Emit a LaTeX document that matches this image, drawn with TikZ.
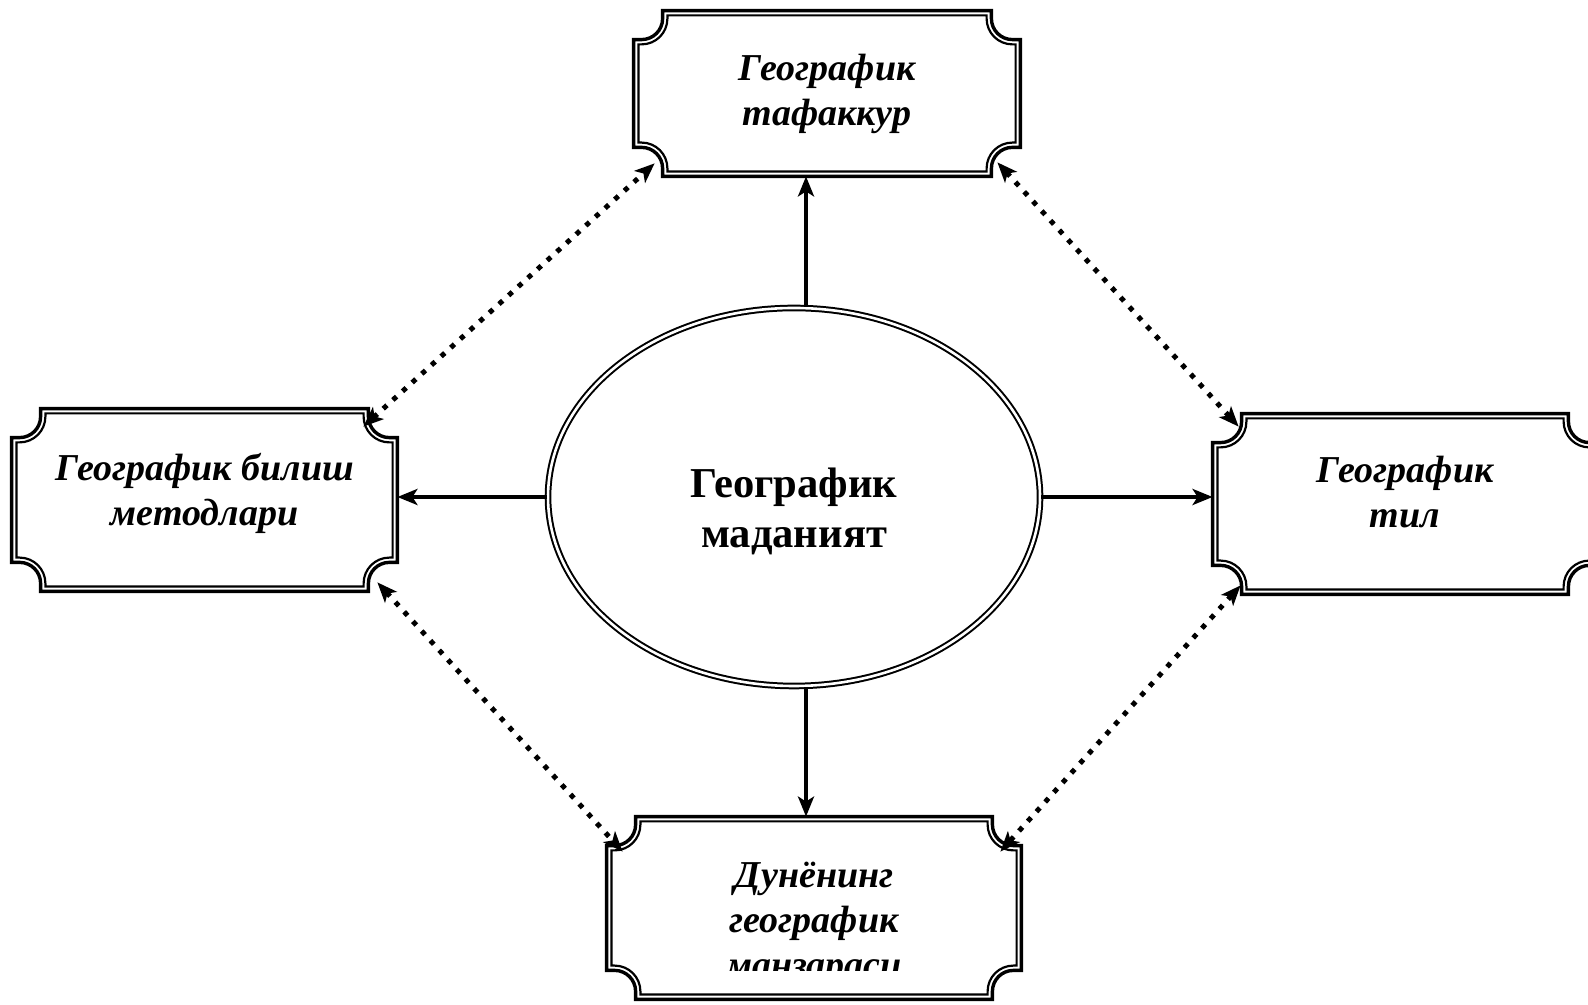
\documentclass[tikz,border=0pt]{standalone}
\usepackage{fontspec}
\setmainfont{Liberation Serif}
\usetikzlibrary{arrows.meta,calc,shapes.geometric}

\newcommand{\plqstep}{4pt}
\newcommand{\plqrad}{10.5pt}
% one outline of a box with notched corners: node, inset, line width
\newcommand{\plaqueline}[3]{%
  \draw[line width=#3] let \p1=(#1.south west), \p2=(#1.north east) in
    ({\x1+\plqstep+\plqrad+#2},{\y2-#2}) -- ({\x2-\plqstep-\plqrad-#2},{\y2-#2})
    -- ({\x2-\plqstep-\plqrad-#2},{\y2-\plqstep}) arc[start angle=180,end angle=270,radius=\plqrad+#2]
    -- ({\x2-#2},{\y2-\plqstep-\plqrad-#2}) -- ({\x2-#2},{\y1+\plqstep+\plqrad+#2})
    -- ({\x2-\plqstep},{\y1+\plqstep+\plqrad+#2}) arc[start angle=90,end angle=180,radius=\plqrad+#2]
    -- ({\x2-\plqstep-\plqrad-#2},{\y1+#2}) -- ({\x1+\plqstep+\plqrad+#2},{\y1+#2})
    -- ({\x1+\plqstep+\plqrad+#2},{\y1+\plqstep}) arc[start angle=0,end angle=90,radius=\plqrad+#2]
    -- ({\x1+#2},{\y1+\plqstep+\plqrad+#2}) -- ({\x1+#2},{\y2-\plqstep-\plqrad-#2})
    -- ({\x1+\plqstep},{\y2-\plqstep-\plqrad-#2}) arc[start angle=270,end angle=360,radius=\plqrad+#2]
    -- cycle;}
\newcommand{\plaque}[1]{\plaqueline{#1}{0pt}{1.7pt}\plaqueline{#1}{2.4pt}{1.1pt}}

\begin{document}
\begin{tikzpicture}[
  x=.5pt,y=.5pt,
  >={Stealth[length=10pt,width=8pt,inset=2.5pt]},
  plaque/.style={rectangle,inner sep=0pt},
  boxtext/.style={align=center,font=\fontsize{19}{22.5}\selectfont\bfseries\itshape},
  arr/.style={->,line width=2.4pt},
  dotarr/.style={<->,line width=2.5pt,dash pattern=on 2.5pt off 4pt},
]
  \clip (0,0) rectangle (1588,1005);
  \node[ellipse,draw,double,line width=1pt,double distance=1.3pt,
        minimum width=246pt,minimum height=189pt] (ell) at (794,508) {};
  \node[align=center,font=\fontsize{21.3}{25}\selectfont\bfseries] (ell-t)
        at ([yshift=-7pt]ell.center) {Географик\\маданият};

  \node[plaque,minimum width=193pt,minimum height=82.5pt] (tafakkur) at (827,911.5) {};
  \node[plaque,minimum width=192.5pt,minimum height=91pt] (bilish) at (204.5,505) {};
  \node[plaque,minimum width=192pt,minimum height=90pt] (til) at (1405,501) {};
  \node[plaque,minimum width=207pt,minimum height=91pt] (manzara) at (814,97) {};
  \foreach \bx in {tafakkur,bilish,til,manzara} \plaque{\bx};

  \node[boxtext] (tafakkur-t) at ([yshift=0pt]tafakkur.center) {Географик\\тафаккур};
  \node[boxtext] (bilish-t) at ([yshift=3.5pt]bilish.center) {Географик билиш\\методлари};
  \node[boxtext] (til-t) at ([yshift=6pt]til.center) {Географик\\тил};
  \begin{scope}
    \clip ([yshift=14.5pt]manzara.south west) rectangle (manzara.north east);
    \node[boxtext] (manzara-t) at ([yshift=-8pt]manzara.center) {Дунёнинг\\географик\\манзараси};
  \end{scope}

  % solid arrows from the centre
  \coordinate (topfoot) at ([xshift=6pt]ell.north);
  \coordinate (botfoot) at ([xshift=6pt]ell.south);
  \draw[arr] (topfoot) -- (topfoot |- tafakkur.south);
  \draw[arr] (botfoot) -- (botfoot |- manzara.north);
  \draw[arr] (ell.west) -- (ell.west -| bilish.east);
  \draw[arr] (ell.east) -- (ell.east -| til.west);

  % dotted links between the boxes
  \draw[dotarr] ([shift={(-17pt,-9pt)}]bilish.north east) -- ([shift={(10.5pt,6.5pt)}]tafakkur.south west);
  \draw[dotarr] ([shift={(-11.5pt,7pt)}]tafakkur.south east) -- ([shift={(13pt,-6.5pt)}]til.north west);
  \draw[dotarr] ([shift={(-10pt,4.5pt)}]bilish.south east) -- ([shift={(8pt,-17.5pt)}]manzara.north west);
  \draw[dotarr] ([shift={(14pt,4.5pt)}]til.south west) -- ([shift={(-10.5pt,-17.5pt)}]manzara.north east);
\end{tikzpicture}
\end{document}
